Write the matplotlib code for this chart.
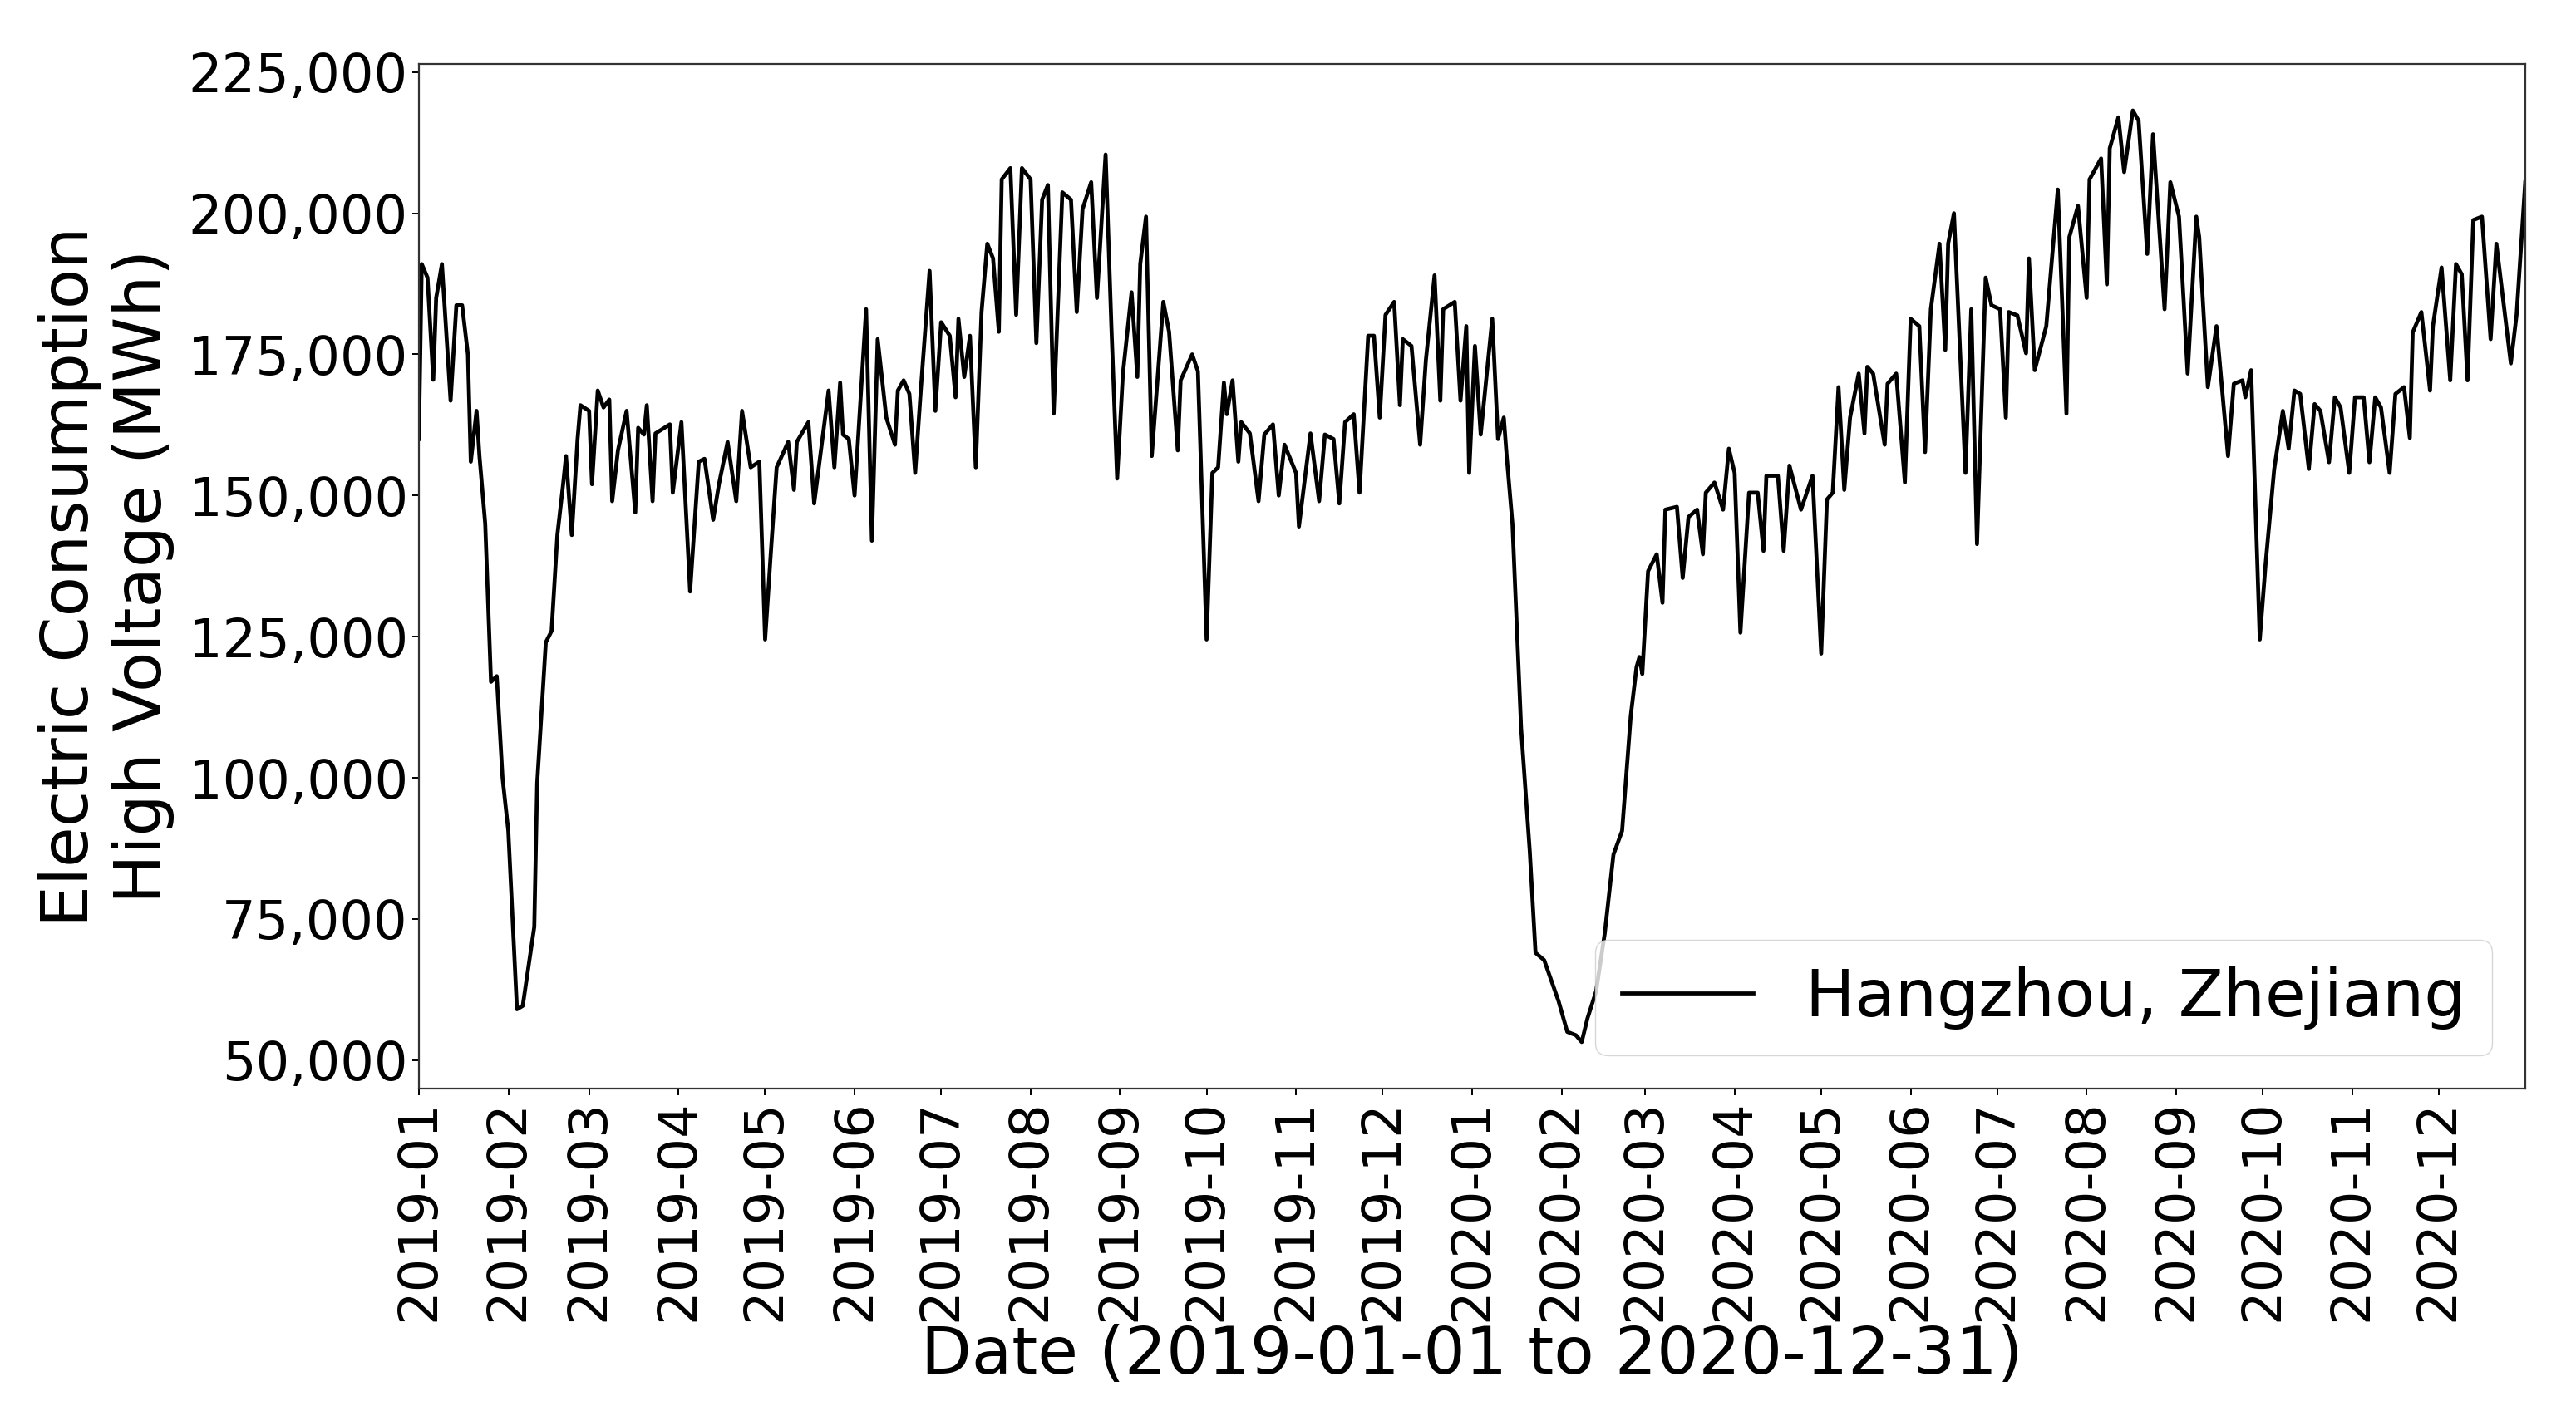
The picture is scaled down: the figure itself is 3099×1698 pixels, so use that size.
import pandas as pd
import numpy as np
import matplotlib
matplotlib.use('Agg')
import matplotlib.pyplot as plt
import matplotlib.dates as mdates
from matplotlib.ticker import FuncFormatter

# readings taken off the chart: day offset from 2019-01-01 and consumption (MWh)
days = [0, 1, 3, 5, 6, 8, 11, 13, 15, 17, 18, 20, 21, 23, 25, 27, 29, 31, 34, 36,
        40, 41, 44, 46, 48, 50, 51, 53, 55, 56, 59, 60, 62, 64, 66, 67, 69, 72, 75, 76,
        78, 79, 81, 82, 87, 88, 91, 94, 97, 99, 102, 104, 107, 110, 112, 115, 118, 120, 122, 124,
        128, 130, 131, 135, 137, 142, 144, 146, 147, 149, 151, 155, 157, 159, 162, 165, 166, 168, 170, 172,
        174, 177, 179, 181, 184, 186, 187, 189, 191, 193, 195, 197, 199, 201, 202, 205, 207, 209, 212, 214,
        216, 218, 220, 223, 226, 228, 230, 233, 235, 238, 240, 242, 244, 247, 249, 250, 252, 254, 258, 260,
        263, 264, 268, 270, 273, 275, 277, 279, 280, 282, 284, 285, 288, 291, 293, 296, 298, 300, 304, 305,
        309, 312, 314, 317, 319, 321, 324, 326, 329, 331, 333, 335, 338, 340, 341, 344, 347, 349, 352, 354,
        355, 359, 361, 363, 364, 366, 368, 372, 374, 376, 377, 379, 382, 385, 387, 390, 395, 398, 401, 403,
        405, 408, 411, 414, 417, 420, 422, 423, 424, 426, 429, 431, 432, 436, 438, 440, 443, 445, 446, 449,
        452, 454, 456, 458, 461, 464, 466, 467, 471, 473, 475, 479, 483, 486, 488, 490, 492, 494, 496, 499,
        501, 502, 504, 508, 509, 512, 515, 517, 520, 522, 524, 527, 529, 530, 532, 536, 538, 540, 543, 545,
        548, 550, 551, 554, 557, 558, 560, 564, 568, 571, 572, 575, 578, 579, 583, 585, 586, 589, 591, 594,
        596, 599, 601, 605, 607, 610, 613, 616, 617, 620, 623, 627, 629, 632, 633, 635, 638, 640, 643, 646,
        648, 650, 652, 655, 657, 659, 662, 664, 666, 669, 671, 674, 676, 678, 680, 683, 685, 688, 690, 691,
        694, 697, 698, 701, 704, 706, 708, 710, 712, 715, 718, 720, 723, 725, 727, 730]

consumption = [160000, 191000, 188600, 170500, 185000, 191000, 166800, 183700, 183700, 175000,
               156000, 165000, 157000, 145000, 117000, 118000, 100000, 90600, 59000, 59600,
               73600, 99000, 124000, 126000, 143000, 152000, 157000, 143000, 160000, 166000,
               165000, 152000, 168600, 165600, 167000, 149000, 158000, 165000, 147000, 162000,
               160800, 166000, 149000, 161000, 162600, 150500, 163000, 133000, 156000, 156500,
               145700, 152000, 159500, 149000, 165000, 155000, 156000, 124500, 140000, 155000,
               159500, 151000, 159500, 163000, 148600, 168600, 155000, 170000, 160800, 160000,
               150000, 183000, 142000, 177700, 163800, 159000, 168600, 170400, 168000, 154000,
               169000, 189800, 165000, 180700, 178300, 167400, 181300, 171000, 178300, 155000,
               182500, 194600, 192000, 179000, 206000, 208000, 182000, 208000, 206000, 177000,
               202400, 205000, 164500, 203700, 202400, 182500, 200700, 205500, 185000, 210400,
               180000, 153000, 171600, 186000, 171000, 191000, 199400, 157000, 184300, 179000,
               158000, 170400, 175000, 172000, 124500, 154000, 155000, 170000, 164400, 170400,
               156000, 163000, 161000, 149000, 160800, 162600, 150000, 159000, 154000, 144500,
               161000, 149000, 160800, 160000, 148600, 163000, 164400, 150500, 178300, 178300,
               163800, 182000, 184300, 166000, 177700, 176500, 159000, 174000, 189000, 166800,
               183000, 184300, 166800, 180000, 154000, 176500, 160800, 181300, 160000, 163800,
               157000, 145000, 108800, 87000, 69000, 67700, 60400, 55000, 54400, 53200,
               57400, 62200, 72500, 86400, 90600, 111000, 119600, 121400, 118400, 136600,
               139600, 131000, 147500, 148000, 135400, 146200, 147500, 139600, 150500, 152300,
               147500, 158300, 154000, 125700, 150500, 150500, 140200, 153500, 153500, 140200,
               155300, 147500, 153500, 122000, 149300, 150500, 169200, 151000, 163800, 171600,
               161000, 172800, 171600, 159000, 169800, 171600, 152300, 181300, 180000, 157700,
               183000, 194600, 175800, 194600, 200000, 154000, 183000, 141400, 188600, 183700,
               183000, 163800, 182500, 181900, 175200, 192000, 172200, 180000, 204200, 164500,
               195800, 201300, 185000, 206000, 209700, 187400, 211500, 217000, 207300, 218200,
               216400, 192800, 214000, 183000, 205500, 199400, 171600, 199400, 195800, 169200,
               180000, 157000, 169800, 170400, 167400, 172200, 124500, 137800, 154700, 165000,
               158300, 168600, 168000, 154700, 166200, 165000, 155900, 167400, 165600, 154000,
               167400, 167400, 155900, 167400, 165600, 154000, 168000, 169200, 160200, 178900,
               182500, 168600, 180000, 190400, 170400, 191000, 189200, 170400, 198800, 199400,
               177700, 194600, 181900, 173400, 182000, 205500]

label = 'Hangzhou, Zhejiang'

dates = pd.Timestamp('2019-01-01') + pd.to_timedelta(days, unit='D')

fig = plt.figure(figsize=(30.99, 16.98), dpi=100)
ax = fig.add_axes([0.1626, 0.2285, 0.8177, 0.7262])

ax.plot(dates, consumption, color='black', linewidth=3.4, label=label)

# monthly ticks, tight x range
ax.xaxis.set_major_locator(mdates.MonthLocator())
ax.xaxis.set_major_formatter(mdates.DateFormatter('%Y-%m'))
ax.set_xlim(dates[0], dates[-1])
ax.set_yticks(np.arange(50000, 225001, 25000))
ax.yaxis.set_major_formatter(FuncFormatter(lambda v, p: '{:,.0f}'.format(v)))

ax.tick_params(axis='both', labelsize=46, length=6, width=1.4)
plt.setp(ax.get_xticklabels(), rotation=90)

for s in ax.spines.values():
    s.set_linewidth(1.6)
    s.set_color('#333333')

ax.set_xlabel('Date (2019-01-01 to 2020-12-31)', fontsize=57, labelpad=2)
ax.set_ylabel('Electric Consumption\nHigh Voltage (MWh)', fontsize=57, labelpad=12)

ax.legend(loc='lower right', fontsize=57)

fig.savefig('out.png', dpi=100)
